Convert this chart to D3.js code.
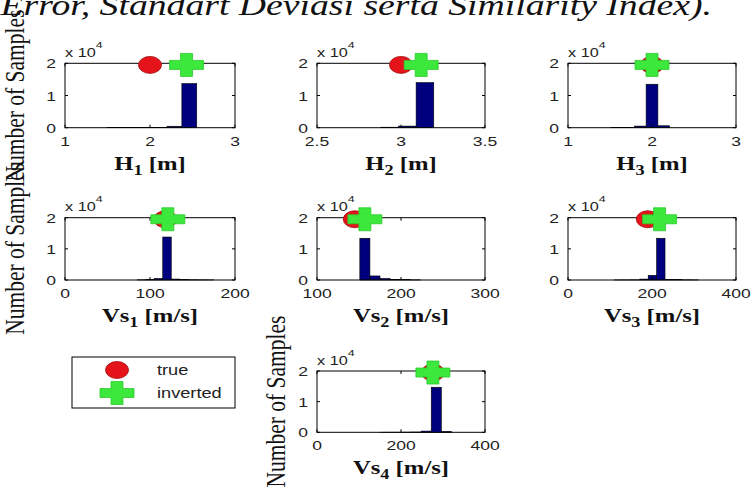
<!DOCTYPE html>
<html><head><meta charset="utf-8">
<script src="https://cdn.jsdelivr.net/npm/d3@7"></script>
<style>html,body{margin:0;padding:0;background:#fff;overflow:hidden}</style>
</head><body>
<script>
// ---- data -------------------------------------------------------------
const paramNames  = ["H", "H", "H", "Vs", "Vs", "Vs", "Vs"];
const paramIndex  = ["1", "2", "3", "1", "2", "3", "4"];
const paramUnits  = ["[m]", "[m]", "[m]", "[m/s]", "[m/s]", "[m/s]", "[m/s]"];
const xDomains    = [[1, 3], [2.5, 3.5], [1, 3], [0, 200], [100, 300], [0, 400], [0, 400]];
const xTickValues = [[1, 2, 3], [2.5, 3, 3.5], [1, 2, 3], [0, 100, 200], [100, 200, 300], [0, 200, 400], [0, 200, 400]];
const yTickValues = [0, 10000, 20000];
const yTickLabels = ["0", "1", "2"];

// histogram bins: left edges, bin width, sample counts
const h1BinStart  = [1.5, 1.675, 1.85, 2.025, 2.2, 2.375];
const h1BinWidth  = 0.175;
const h1Counts    = [40, 60, 80, 120, 450, 13700];

const h2BinStart  = [2.88, 2.985, 3.09];
const h2BinWidth  = 0.105;
const h2Counts    = [150, 500, 14000];

const h3BinStart  = [1.51, 1.65, 1.79, 1.93, 2.07];
const h3BinWidth  = 0.14;
const h3Counts    = [50, 80, 500, 13500, 600];

const vs1BinStart = [85, 95, 105, 115, 125, 135, 145, 155, 165];
const vs1BinWidth = 10;
const vs1Counts   = [60, 100, 500, 13800, 300, 100, 80, 60, 40];

const vs2BinStart = [151, 163, 175, 187, 199, 211];
const vs2BinWidth = 12;
const vs2Counts   = [13400, 1300, 500, 200, 100, 50];

const vs3BinStart = [111, 131, 151, 171, 191, 211, 231, 251, 271, 291];
const vs3BinWidth = 20;
const vs3Counts   = [30, 40, 60, 300, 1500, 13400, 200, 100, 60, 40];

const vs4BinStart = [152, 176, 200, 224, 248, 272, 296];
const vs4BinWidth = 24;
const vs4Counts   = [30, 40, 60, 100, 400, 14700, 300];

// true model and inverted model values
const trueValues     = [2.0, 3.0, 2.0, 118, 145, 190, 276];
const invertedValues = [2.43, 3.12, 2.0, 121, 157, 218, 276];
const markerLevel    = 19500;

const legendLabels = ["true", "inverted"];
const yAxisTitle   = "Number of Samples";
const pageLine     = "Root Mean Square Error, Standart Deviasi serta Similarity Index).";

// ---- layout -----------------------------------------------------------
const W = 752, H = 489;
const SX = 1.3;                       // horizontal text stretch
const colLeft  = [65, 317, 568];
const colWidth = [170, 168, 168];
const rowTop   = [63.3, 217.7, 371];
const rowH     = [64.4, 62.3, 61.3];
const panelCell = [[0, 0], [1, 0], [2, 0], [0, 1], [1, 1], [2, 1], [1, 2]];
const yTitleX   = [24, null, null, 24, null, null, 285];

const binStarts = [h1BinStart, h2BinStart, h3BinStart, vs1BinStart, vs2BinStart, vs3BinStart, vs4BinStart];
const binWidths = [h1BinWidth, h2BinWidth, h3BinWidth, vs1BinWidth, vs2BinWidth, vs3BinWidth, vs4BinWidth];
const binCounts = [h1Counts, h2Counts, h3Counts, vs1Counts, vs2Counts, vs3Counts, vs4Counts];

const SERIF = "'Liberation Serif','Times New Roman',serif";
const SANS  = "'Liberation Sans',Arial,sans-serif";
const RED = "#e5141b", GREEN = "#3be83b", NAVY = "#00007e";

const svg = d3.select("body").append("svg")
  .attr("width", W).attr("height", H)
  .style("display", "block").style("background", "#fff");

// stretched text helper
function stext(g, x, y, str, size, opts = {}) {
  return g.append("text")
    .attr("transform", `translate(${x},${y}) scale(${SX},1)`)
    .attr("text-anchor", opts.anchor || "start")
    .attr("font-family", opts.family || SANS)
    .attr("font-size", size)
    .attr("font-weight", opts.weight || "normal")
    .attr("font-style", opts.style || "normal")
    .attr("fill", opts.fill || "#111")
    .text(str);
}

// marker shapes
function drawCircle(g, cx, cy) {
  g.append("ellipse").attr("cx", cx).attr("cy", cy)
    .attr("rx", 11.5).attr("ry", 8.5)
    .attr("fill", RED).attr("stroke", "#a01010").attr("stroke-width", 0.8);
}
function drawPlus(g, cx, cy) {
  const hw = 17, hh = 11.5, tx = 6, ty = 4.5;   // half extents and half arm thickness
  const p = `M${cx - tx},${cy - hh}H${cx + tx}V${cy - ty}H${cx + hw}V${cy + ty}H${cx + tx}V${cy + hh}` +
            `H${cx - tx}V${cy + ty}H${cx - hw}V${cy - ty}H${cx - tx}Z`;
  g.append("path").attr("d", p).attr("fill", GREEN)
    .attr("stroke", "#2cc92c").attr("stroke-width", 0.8);
}

// top line of running text
stext(svg, 712, 15, pageLine, 29, { anchor: "end", family: SERIF, style: "italic", fill: "#111" });

// ---- panels -----------------------------------------------------------
panelCell.forEach(([c, r], i) => {
  const left = colLeft[c], top = rowTop[r], w = colWidth[c], h = rowH[r];
  const x = d3.scaleLinear().domain(xDomains[i]).range([left, left + w]);
  const y = d3.scaleLinear().domain([0, 20000]).range([top + h, top]);
  const g = svg.append("g");

  // histogram bars
  const bins = binStarts[i].map((s, k) => ({ x0: s, x1: s + binWidths[i], n: binCounts[i][k] }));
  g.selectAll("rect.bar").data(bins).join("rect")
    .attr("class", "bar")
    .attr("x", d => x(d.x0)).attr("width", d => x(d.x1) - x(d.x0))
    .attr("y", d => y(d.n)).attr("height", d => y(0) - y(d.n))
    .attr("fill", NAVY).attr("stroke", "#000").attr("stroke-width", 0.6);

  // axes box with inward ticks on all sides
  g.append("rect").attr("x", left).attr("y", top).attr("width", w).attr("height", h)
    .attr("fill", "none").attr("stroke", "#000").attr("stroke-width", 1);
  yTickValues.forEach((v, k) => {
    g.append("line").attr("x1", left).attr("x2", left + 3).attr("y1", y(v)).attr("y2", y(v)).attr("stroke", "#000");
    g.append("line").attr("x1", left + w).attr("x2", left + w - 3).attr("y1", y(v)).attr("y2", y(v)).attr("stroke", "#000");
    stext(g, left - 9, y(v) + 5, yTickLabels[k], 13.5, { anchor: "end", fill: "#222" });
  });
  xTickValues[i].forEach(v => {
    g.append("line").attr("x1", x(v)).attr("x2", x(v)).attr("y1", top + h).attr("y2", top + h - 3).attr("stroke", "#000");
    g.append("line").attr("x1", x(v)).attr("x2", x(v)).attr("y1", top).attr("y2", top + 3).attr("stroke", "#000");
    stext(g, x(v), top + h + 18, String(v), 13.5, { anchor: "middle", fill: "#222" });
  });

  // exponent note
  const ex = stext(g, left, top - 6.5, "x 10", 12.5, { fill: "#222" });
  ex.append("tspan").attr("dy", -9).attr("font-size", 9.5).text("4");

  // x axis title with subscript
  const xt = stext(g, left + w / 2, top + h + 42, "", 19, { anchor: "middle", family: SERIF, weight: "bold" });
  xt.append("tspan").text(paramNames[i]);
  xt.append("tspan").attr("dy", 5).attr("font-size", 14).text(paramIndex[i]);
  xt.append("tspan").attr("dy", -5).text(" " + paramUnits[i]);

  // y axis title
  if (yTitleX[i] !== null) {
    g.append("text")
      .attr("transform", `translate(${yTitleX[i]},${top + h / 2}) rotate(-90) scale(1,${SX})`)
      .attr("text-anchor", "middle").attr("font-family", SERIF).attr("font-size", 21.5)
      .attr("fill", "#111").text(yAxisTitle);
  }

  // true and inverted markers
  drawCircle(g, x(trueValues[i]), y(markerLevel));
  drawPlus(g, x(invertedValues[i]), y(markerLevel));
});

// ---- legend -----------------------------------------------------------
const lg = svg.append("g");
lg.append("rect").attr("x", 72).attr("y", 357).attr("width", 163).attr("height", 51)
  .attr("fill", "#fff").attr("stroke", "#000").attr("stroke-width", 1);
drawCircle(lg, 117, 370);
drawPlus(lg, 117, 393);
legendLabels.forEach((t, k) => stext(lg, 157, 375 + k * 23, t, 14, { fill: "#222" }));
</script>
</body></html>
